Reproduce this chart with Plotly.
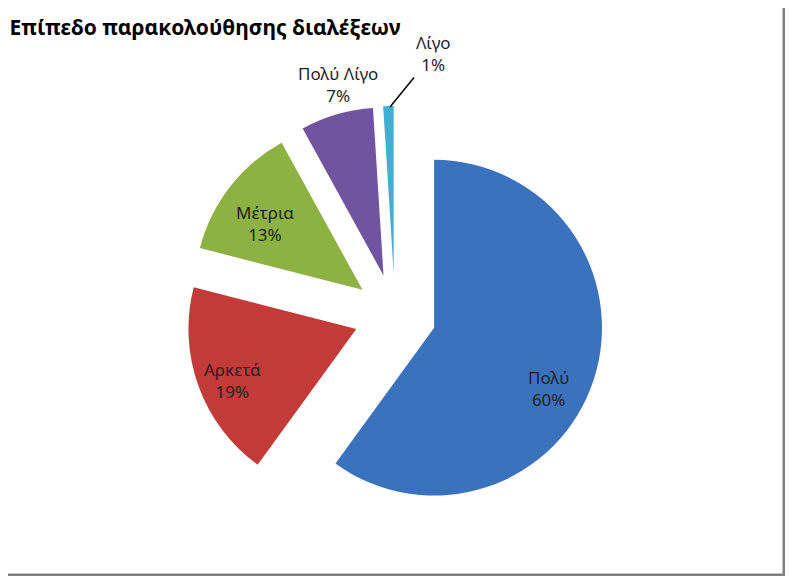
import plotly.graph_objects as go

# data
labels = ["Πολύ", "Αρκετά", "Μέτρια", "Πολύ Λίγο", "Λίγο"]
values = [60, 19, 13, 7, 1]
colors = ["#3A72BE", "#C23B38", "#8DB143", "#7154A0", "#40AFD0"]

# the page keeps an 8px body margin, so the figure is sized to fit inside it
W, H = 777, 568
cx, cy = 387, 307          # pie centre in px (from the figure's top-left)
pull = 0.245
half = 209                 # r * (1 + pull)

# where each data label sits (px from the figure's top-left), as in the original
label_xy = [(540, 380), (224, 372), (257, 216), (330, 77), (425, 46)]
leader_tip = (382, 99)     # the 1% label points at its thin slice

total = sum(values)
pct = [f"{round(100 * v / total)}%" for v in values]

fig = go.Figure()
fig.add_trace(go.Pie(
    labels=labels,
    values=values,
    sort=False,
    direction="clockwise",
    rotation=0,
    pull=[pull] * len(values),
    marker=dict(colors=colors, line=dict(width=0)),
    textinfo="none",
    hoverinfo="label+percent",
    showlegend=False,
    automargin=False,
    domain=dict(x=[(cx - half) / W, (cx + half) / W],
                y=[(H - cy - half) / H, (H - cy + half) / H]),
))

lab_font = dict(family="Noto Sans", size=17, color="#1f1f1f")
annotations = []
for i, (lab, p) in enumerate(zip(labels, pct)):
    x, y = label_xy[i]
    ann = dict(text=f"{lab}<br>{p}", xref="paper", yref="paper",
               x=x / W, y=1 - y / H, xanchor="center", yanchor="middle",
               showarrow=False, font=lab_font)
    if i == len(labels) - 1:
        tx, ty = leader_tip
        ann.update(x=tx / W, y=1 - ty / H, ax=x - tx, ay=y - ty,
                   showarrow=True, arrowhead=0, arrowwidth=1.5,
                   arrowcolor="black", standoff=0)
    annotations.append(ann)

fig.update_layout(
    width=W, height=H,
    margin=dict(l=0, r=0, t=0, b=0),
    paper_bgcolor="white",
    plot_bgcolor="white",
    title=dict(text="<b>Επίπεδο παρακολούθησης διαλέξεων</b>",
               x=0.002, xanchor="left", y=1 - 20 / H, yanchor="middle",
               pad=dict(l=0, t=0),
               font=dict(family="Noto Sans", size=21, color="black")),
    annotations=annotations,
    shapes=[
        dict(type="line", xref="paper", yref="paper", x0=1, x1=1, y0=0, y1=1,
             line=dict(color="#808080", width=5)),
        dict(type="line", xref="paper", yref="paper", x0=0, x1=1, y0=0, y1=0,
             line=dict(color="#808080", width=5)),
    ],
)

fig.write_html("out.html")
